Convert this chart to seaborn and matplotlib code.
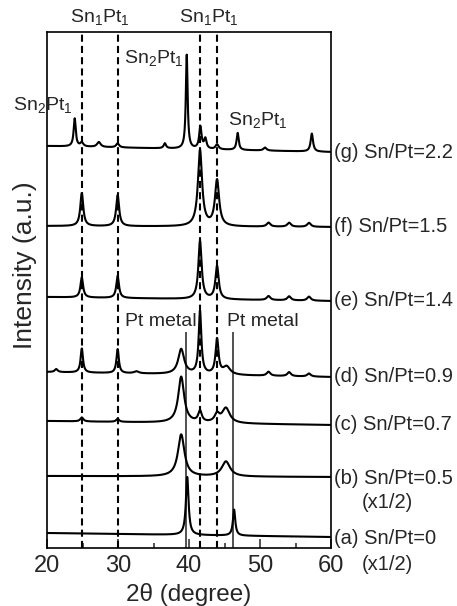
import numpy as np
import pandas as pd
import matplotlib
matplotlib.use("Agg")
import matplotlib.pyplot as plt
import seaborn as sns

# ---- data (y in display units, baseline offsets per pattern) ----
samples = ["a", "b", "c", "d", "e", "f", "g"]
labels = ["(a) Sn/Pt=0", "(b) Sn/Pt=0.5", "(c) Sn/Pt=0.7", "(d) Sn/Pt=0.9",
          "(e) Sn/Pt=1.4", "(f) Sn/Pt=1.5", "(g) Sn/Pt=2.2"]
base_left = [15, 72, 127, 176, 251, 322, 402]
base_right = [11, 71, 123, 171, 247, 321, 396]

a_pos = [39.75, 46.35]
a_hgt = [58, 26]
a_fwhm = [0.45, 0.4]

b_pos = [38.9, 45.2]
b_hgt = [42, 15]
b_fwhm = [1.1, 1.4]

c_pos = [24.9, 29.95, 38.9, 41.55, 43.95, 45.2]
c_hgt = [4, 3, 46, 11, 8, 15]
c_fwhm = [0.5, 0.5, 1.0, 0.6, 0.8, 1.3]

d_pos = [21.3, 24.9, 29.95, 32.6, 38.9, 41.55, 43.95, 45.3, 51.2, 54.1, 56.9]
d_hgt = [3, 24, 24, 2, 25, 63, 35, 8, 4, 4, 3]
d_fwhm = [0.5, 0.4, 0.4, 0.8, 1.0, 0.45, 0.5, 1.2, 0.6, 0.6, 0.6]

e_pos = [24.9, 29.95, 41.55, 43.95, 51.2, 54.1, 56.9]
e_hgt = [20, 22, 58, 33, 4, 4, 4]
e_fwhm = [0.45, 0.45, 0.55, 0.55, 0.6, 0.6, 0.6]

f_pos = [24.9, 29.95, 41.55, 43.95, 51.2, 54.1, 56.9]
f_hgt = [33, 31, 76, 46, 4, 4, 4]
f_fwhm = [0.5, 0.5, 0.7, 0.7, 0.6, 0.6, 0.6]

g_pos = [23.9, 24.9, 27.3, 29.95, 36.6, 39.68, 41.6, 42.3, 43.95, 46.85, 50.7, 57.3]
g_hgt = [28, 4, 5, 4, 5, 94, 22, 10, 5, 17, 3, 18]
g_fwhm = [0.35, 0.5, 0.6, 0.5, 0.4, 0.3, 0.4, 0.4, 0.5, 0.35, 0.5, 0.4]

peaks = {"a": (a_pos, a_hgt, a_fwhm), "b": (b_pos, b_hgt, b_fwhm),
         "c": (c_pos, c_hgt, c_fwhm), "d": (d_pos, d_hgt, d_fwhm),
         "e": (e_pos, e_hgt, e_fwhm), "f": (f_pos, f_hgt, f_fwhm),
         "g": (g_pos, g_hgt, g_fwhm)}

sn1pt1_lines = [24.9, 29.95, 41.55, 43.95]
pt_metal_lines = [39.53, 46.2]
pt_line_top = 216

annotations = [("Sn$_1$Pt$_1$", 27.4, 531), ("Sn$_1$Pt$_1$", 42.75, 531),
               ("Sn$_2$Pt$_1$", 19.44, 443), ("Sn$_2$Pt$_1$", 35.07, 490),
               ("Sn$_2$Pt$_1$", 49.7, 428),
               ("Pt metal", 36.06, 226), ("Pt metal", 50.4, 226)]
label_y = [10, 70, 123, 171, 248, 321, 396]
half_note_y = [-16, 46]

# ---- build profiles ----
tt = np.linspace(20, 60, 2401)
rows = []
for s, bl, br in zip(samples, base_left, base_right):
    pos, hgt, fw = peaks[s]
    y = bl + (br - bl) * (tt - 20) / 40.0
    for p, h, w in zip(pos, hgt, fw):
        y = y + h / (1 + ((tt - p) / (w / 2)) ** 2)
    rows.append(pd.DataFrame({"two_theta": tt, "intensity": y, "sample": s}))
df = pd.concat(rows, ignore_index=True)

sns.set_style("ticks")
plt.rcParams["font.family"] = ["Liberation Sans", "DejaVu Sans"]
plt.rcParams["mathtext.fontset"] = "custom"
plt.rcParams["mathtext.rm"] = "Liberation Sans"
plt.rcParams["mathtext.it"] = "Liberation Sans"

fig = plt.figure(figsize=(4.57, 6.06), dpi=100)
ax = fig.add_axes([47 / 457, 1 - 548 / 606, 284 / 457, 516 / 606])

sns.lineplot(data=df, x="two_theta", y="intensity", units="sample",
             estimator=None, color="black", lw=1.5, ax=ax, legend=False)

for x in sn1pt1_lines:
    ax.axvline(x, color="black", lw=1.5, ls=(0, (3.4, 2.0)), zorder=1)
ax.vlines(pt_metal_lines, 0, pt_line_top, color="#333333", lw=1.2, zorder=1)

for txt, x, y in annotations:
    ax.text(x, y, txt, ha="center", va="center", fontsize=14, clip_on=False)
for lab, y in zip(labels, label_y):
    ax.text(60.45, y, lab, ha="left", va="center", fontsize=14.5, clip_on=False)
for y in half_note_y:
    ax.text(64.4, y, "(x1/2)", ha="left", va="center", fontsize=14.5, clip_on=False)

ax.set_xlim(20, 60)
ax.set_ylim(0, 516)
ax.set_xticks([20, 30, 40, 50, 60])
ax.set_xticks([25, 35, 45, 55], minor=True)
ax.set_yticks([])
ax.tick_params(axis="x", which="major", direction="in", length=6.5, width=1.1,
               labelsize=17, pad=5, top=False)
ax.tick_params(axis="x", which="minor", direction="in", length=3.6, width=1.1, top=False)
for sp in ax.spines.values():
    sp.set_visible(True)
    sp.set_linewidth(1.2)
    sp.set_color("black")
ax.set_xlabel("2θ (degree)", fontsize=17.5, labelpad=4)
ax.set_ylabel("Intensity (a.u.)", fontsize=19)
ax.yaxis.set_label_coords(-10 / 284, (548 - 265) / 516)

fig.savefig("out.png", dpi=100)
